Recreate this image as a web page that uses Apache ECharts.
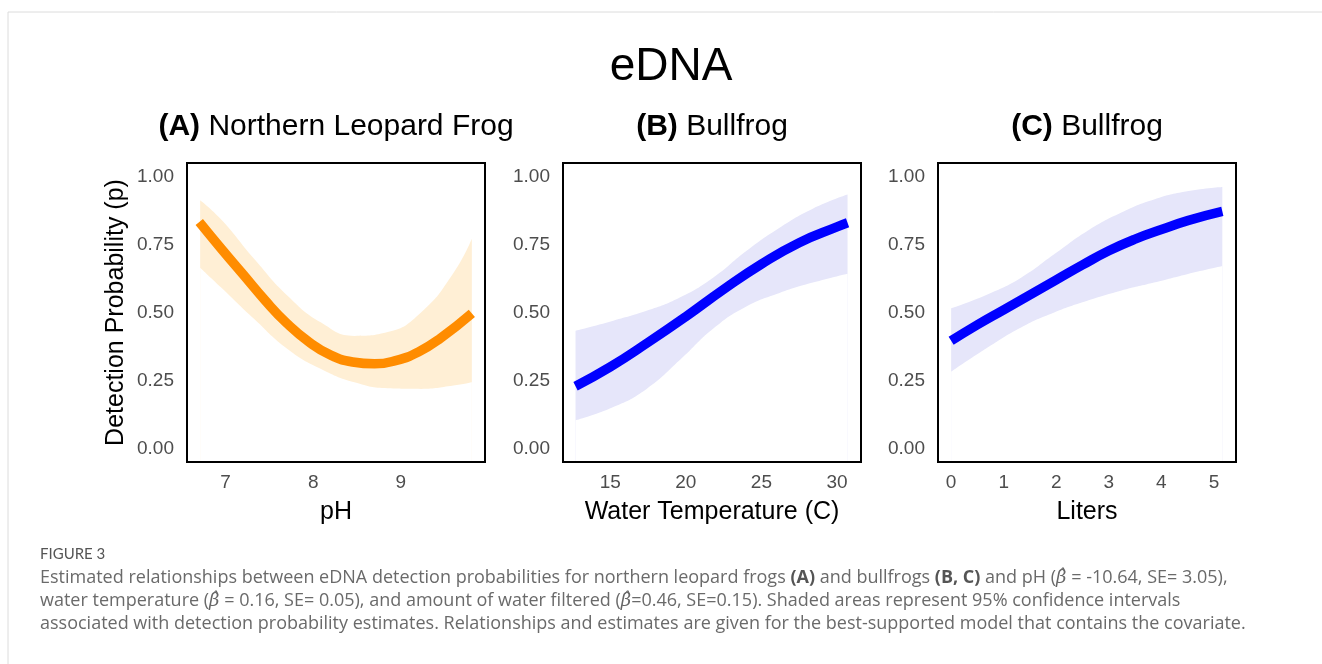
<!DOCTYPE html>
<html>
<head>
<meta charset="utf-8">
<title>eDNA</title>
<script src="https://cdn.jsdelivr.net/npm/echarts@6/dist/echarts.min.js"></script>
<style>
    html, body { margin: 0; padding: 0; background: #fff; }
    #chart { width: 1322px; height: 664px; }
</style>
</head>
<body>
<div id="chart"></div>
<script>
// panel A: pH
var phX = [6.70, 6.95, 7.20, 7.45, 7.70, 7.95, 8.20, 8.45, 8.70, 8.95, 9.20, 9.45, 9.81];
var phFit = [0.833, 0.735, 0.640, 0.545, 0.460, 0.392, 0.343, 0.318, 0.311, 0.324, 0.355, 0.405, 0.497];
var phBandX = [6.71, 6.95, 7.33, 7.71, 8.09, 8.47, 8.85, 9.23, 9.60, 9.81];
var phLower = [0.665, 0.592, 0.475, 0.365, 0.292, 0.243, 0.221, 0.219, 0.231, 0.243];
var phUpper = [0.913, 0.842, 0.696, 0.561, 0.463, 0.414, 0.428, 0.500, 0.645, 0.771];
var phTicks = [7, 8, 9];

// panel B: water temperature
var tempX = [12.7, 15, 17.5, 20, 22.5, 25, 27.5, 30, 30.7];
var tempFit = [0.229, 0.30, 0.39, 0.485, 0.585, 0.678, 0.757, 0.815, 0.83];
var tempBandX = [12.7, 15.2, 17.4, 19.6, 21.8, 24.0, 26.2, 28.4, 30.7];
var tempLower = [0.103, 0.152, 0.219, 0.325, 0.44, 0.522, 0.572, 0.610, 0.643];
var tempUpper = [0.433, 0.470, 0.506, 0.555, 0.628, 0.726, 0.812, 0.882, 0.934];
var tempTicks = [15, 20, 25, 30];

// panel C: liters filtered
var litX = [0, 0.5, 1, 1.5, 2, 2.5, 3, 3.5, 4, 4.5, 5.16];
var litFit = [0.396, 0.455, 0.51, 0.565, 0.62, 0.675, 0.727, 0.77, 0.805, 0.838, 0.872];
var litBandX = [0, 0.70, 1.33, 1.96, 2.59, 3.23, 3.86, 4.49, 5.16];
var litLower = [0.282, 0.372, 0.445, 0.500, 0.543, 0.580, 0.610, 0.641, 0.671];
var litUpper = [0.515, 0.567, 0.628, 0.714, 0.800, 0.867, 0.916, 0.946, 0.962];
var litTicks = [0, 1, 2, 3, 4, 5];

var yTicks = [0, 0.25, 0.5, 0.75, 1];

var panels = [
    {title: '{b|(A)} Northern Leopard Frog', xName: 'pH', x: phX, fit: phFit, bx: phBandX, lo: phLower, hi: phUpper,
        ticks: phTicks, min: 6.56, max: 9.96, left: 187, line: '#FF8C00', band: '#FFEFD5'},
    {title: '{b|(B)} Bullfrog', xName: 'Water Temperature (C)', x: tempX, fit: tempFit, bx: tempBandX, lo: tempLower, hi: tempUpper,
        ticks: tempTicks, min: 11.87, max: 31.59, left: 563, line: '#0000FF', band: '#E6E6FA'},
    {title: '{b|(C)} Bullfrog', xName: 'Liters', x: litX, fit: litFit, bx: litBandX, lo: litLower, hi: litUpper,
        ticks: litTicks, min: -0.25, max: 5.42, left: 938, line: '#0000FF', band: '#E6E6FA'}
];

var FONT = '"Liberation Sans", Arial, Helvetica, sans-serif';
var CAP_FONT = '"Open Sans", Lato, sans-serif';
var W = 298, H = 299, TOP = 163;

function pairs(xs, ys) {
    var out = [];
    for (var i = 0; i < xs.length; i++) out.push([xs[i], ys[i]]);
    return out;
}

var grids = [], xAxes = [], yAxes = [], series = [];
var graphics = [
    {type: 'line', shape: {x1: 8, y1: 12, x2: 1322, y2: 12}, style: {stroke: '#dcdcdc', lineWidth: 1}},
    {type: 'line', shape: {x1: 8, y1: 12, x2: 8, y2: 664}, style: {stroke: '#dcdcdc', lineWidth: 1}},
    {type: 'text', x: 671, y: 67, style: {text: 'eDNA', align: 'center', verticalAlign: 'middle',
        fontSize: 46, fontFamily: FONT, fill: '#000'}}
];

panels.forEach(function (p, i) {
    // border drawn above the series (z 10) so the band masks stay inside it
    grids.push({left: p.left, top: TOP, width: W, height: H, show: true, z: 10,
        borderColor: '#000', borderWidth: 2, backgroundColor: 'transparent'});
    xAxes.push({
        gridIndex: i, type: 'value', min: p.min, max: p.max,
        axisLine: {show: false}, axisTick: {show: false}, splitLine: {show: false},
        axisLabel: {customValues: p.ticks, color: '#4d4d4d', fontSize: 19, fontFamily: FONT, margin: 11},
        name: p.xName, nameLocation: 'middle', nameGap: 38,
        nameTextStyle: {fontSize: 25, color: '#000', fontFamily: FONT}
    });
    yAxes.push({
        gridIndex: i, type: 'value', min: -0.05, max: 1.05,
        axisLine: {show: false}, axisTick: {show: false}, splitLine: {show: false},
        axisLabel: {customValues: yTicks, color: '#4d4d4d', fontSize: 19, fontFamily: FONT, margin: 13,
            formatter: function (v) { return v.toFixed(2); }},
        name: i === 0 ? 'Detection Probability (p)' : '', nameLocation: 'middle', nameGap: 58,
        nameTextStyle: {fontSize: 25, color: '#000', fontFamily: FONT}
    });
    // confidence band: fill below upper bound, then mask below lower bound with white
    series.push({
        type: 'line', xAxisIndex: i, yAxisIndex: i, smooth: 0.5, z: 1,
        symbol: 'none', silent: true, lineStyle: {opacity: 0},
        areaStyle: {color: p.band, opacity: 1, origin: 'start'},
        data: pairs(p.bx, p.hi)
    });
    series.push({
        type: 'line', xAxisIndex: i, yAxisIndex: i, smooth: 0.5, z: 2,
        symbol: 'none', silent: true, lineStyle: {opacity: 0},
        areaStyle: {color: '#fff', opacity: 1, origin: 'start'},
        data: pairs(p.bx, p.lo)
    });
    series.push({
        type: 'line', xAxisIndex: i, yAxisIndex: i, smooth: 0.5, symbol: 'none', silent: true,
        lineStyle: {color: p.line, width: 9.5, cap: 'butt'},
        data: pairs(p.x, p.fit), z: 5
    });
    graphics.push({type: 'text', x: p.left + W / 2, y: 127, style: {
        text: p.title, align: 'center', verticalAlign: 'middle',
        fontSize: 30, fontFamily: FONT, fill: '#000',
        rich: {b: {fontSize: 30, fontWeight: 'bold', fontFamily: FONT, fill: '#000'}}
    }});
});

var capRich = {
    b: {fontWeight: 'bold', fontSize: 18, fontFamily: CAP_FONT, fill: '#555'},
    i: {fontStyle: 'italic', fontSize: 18, fontFamily: '"DejaVu Serif", serif', fill: '#666'}
};
var captionLines = [
    'Estimated relationships between eDNA detection probabilities for northern leopard frogs {b|(A)} and bullfrogs {b|(B, C)} and pH ({i|β̂} = -10.64, SE= 3.05),',
    'water temperature ({i|β̂} = 0.16, SE= 0.05), and amount of water filtered ({i|β̂}=0.46, SE=0.15). Shaded areas represent 95% confidence intervals',
    'associated with detection probability estimates. Relationships and estimates are given for the best-supported model that contains the covariate.'
];
graphics.push({type: 'text', x: 40, y: 554, style: {text: 'FIGURE 3', verticalAlign: 'middle',
    fontSize: 15, fontFamily: 'Lato, sans-serif', fill: '#555'}});
captionLines.forEach(function (t, k) {
    graphics.push({type: 'text', x: 40, y: 578 + k * 23, style: {text: t, verticalAlign: 'middle',
        fontSize: 18, fontFamily: CAP_FONT, fill: '#6a6a6a', rich: capRich}});
});

var chart = echarts.init(document.getElementById('chart'));
chart.setOption({
    animation: false,
    backgroundColor: '#fff',
    grid: grids,
    xAxis: xAxes,
    yAxis: yAxes,
    series: series,
    graphic: graphics
});
</script>
</body>
</html>
